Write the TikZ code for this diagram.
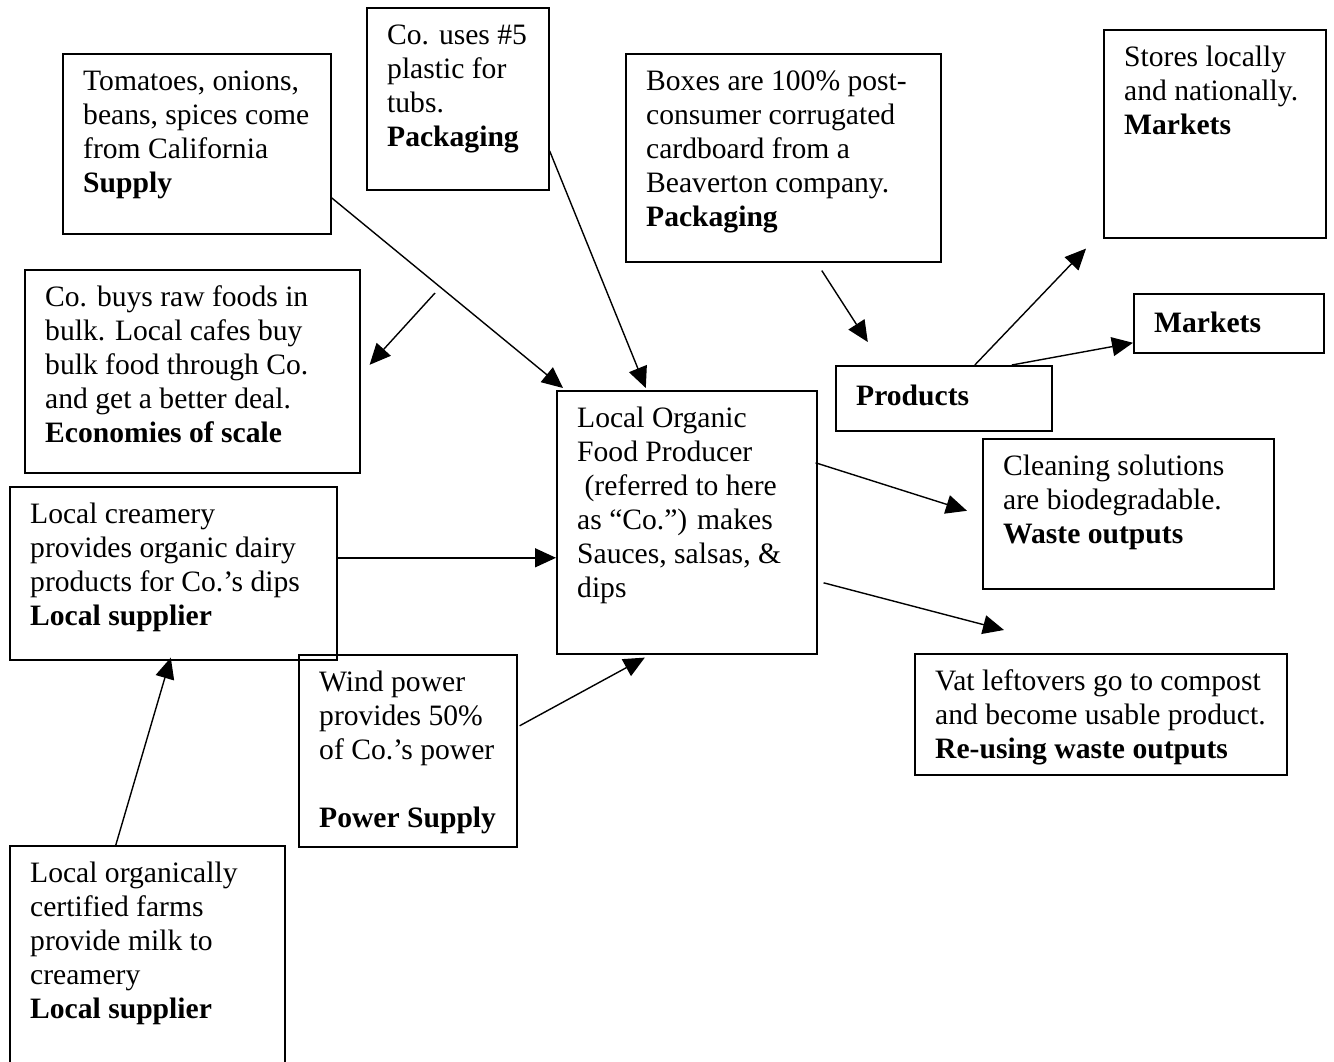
\documentclass[tikz,border=0pt]{standalone}
\usepackage{fontspec}
\setmainfont{Liberation Serif}
\usetikzlibrary{arrows.meta}
\begin{document}
\begin{tikzpicture}[x=1pt,y=-1pt,
  box/.style={draw, line width=1.6pt, inner sep=0pt, anchor=north west, rectangle},
  lbl/.style={anchor=north west, inner sep=0pt, align=left,
    font=\fontsize{29.6}{34}\selectfont, xshift=21pt, yshift=-13.2pt},
  arr/.style={line width=1.4pt, -{Triangle[length=21pt,width=19pt]}}]
\newcommand\bx[7]{\node[box, minimum width=#4pt, minimum height=#5pt,
  label={[lbl,#6]north west:{\strut #7}}] (#1) at (#2,#3) {};}
\useasboundingbox (0,0) rectangle (1334,1061);
\clip (0,0) rectangle (1334,1061);
% boxes
\bx{A}{62}{53}{268}{180}{}{Tomatoes, onions,\\beans, spices come\\from California\\\textbf{Supply}}
\bx{B}{366}{7}{182}{182}{}{Co. uses \#5\\plastic for\\tubs.\\\textbf{Packaging}}
\bx{C}{625}{53}{315}{208}{}{Boxes are 100\% post-\\consumer corrugated\\cardboard from a\\Beaverton company.\\\textbf{Packaging}}
\bx{D}{1103}{29}{222}{208}{}{Stores locally\\and nationally.\\\textbf{Markets}}
\bx{E}{1133}{293}{190}{59}{yshift=-2.5pt}{\textbf{Markets}}
\bx{F}{835}{365}{216}{65}{yshift=-3pt}{\textbf{Products}}
\bx{G}{24}{269}{335}{203}{}{Co. buys raw foods in\\bulk. Local cafes buy\\bulk food through Co.\\and get a better deal.\\\textbf{Economies of scale}}
\bx{H}{556}{390}{260}{263}{}{Local Organic\\Food Producer\\\ (referred to here\\as “Co.”) makes\\Sauces, salsas, \&\\dips}
\bx{I}{982}{438}{291}{150}{}{Cleaning solutions\\are biodegradable.\\\textbf{Waste outputs}}
\bx{J}{9}{486}{327}{173}{}{Local creamery\\provides organic dairy\\products for Co.’s dips\\\textbf{Local supplier}}
\bx{K}{298}{654}{218}{192}{}{Wind power\\provides 50\%\\of Co.’s power\\[34pt]\textbf{Power Supply}}
\bx{L}{914}{653}{372}{121}{}{Vat leftovers go to compost\\and become usable product.\\\textbf{Re-using waste outputs}}
\bx{M}{9}{845}{275}{300}{}{Local organically\\certified farms\\provide milk to\\creamery\\\textbf{Local supplier}}
% free end
\coordinate (eos) at (435,293);
% connectors
\draw[arr] ([yshift=-54pt]A.east) -- ([xshift=7pt,yshift=2pt]H.north west);
\draw[arr] ([yshift=-52pt]B.east) -- ([xshift=-41pt,yshift=2pt]H.north);
\draw[arr] (eos) -- ([xshift=9pt,yshift=6.5pt]G.east);
\draw[arr] ([yshift=15.5pt]J.east) -- ([yshift=-35.5pt]H.west);
\draw[arr] ([xshift=2pt,yshift=25pt]K.east) -- ([xshift=-42pt,yshift=-3pt]H.south);
\draw[arr] ([xshift=-31.5pt]M.north) -- ([xshift=-2.5pt,yshift=3pt]J.south);
\draw[arr] ([xshift=38.5pt,yshift=-8pt]C.south) -- ([xshift=-76pt,yshift=23pt]F.north);
\draw[arr] ([xshift=31pt]F.north) -- ([xshift=-17pt,yshift=-10pt]D.south west);
\draw[arr] ([xshift=68pt]F.north) -- ([yshift=-19.5pt]E.west);
\draw[arr] ([xshift=-2pt,yshift=59.5pt]H.east) -- ([xshift=-15pt,yshift=3pt]I.west);
\draw[arr] ([xshift=6pt,yshift=-60.5pt]H.east) -- ([xshift=90pt,yshift=23pt]L.north west);
\end{tikzpicture}
\end{document}
